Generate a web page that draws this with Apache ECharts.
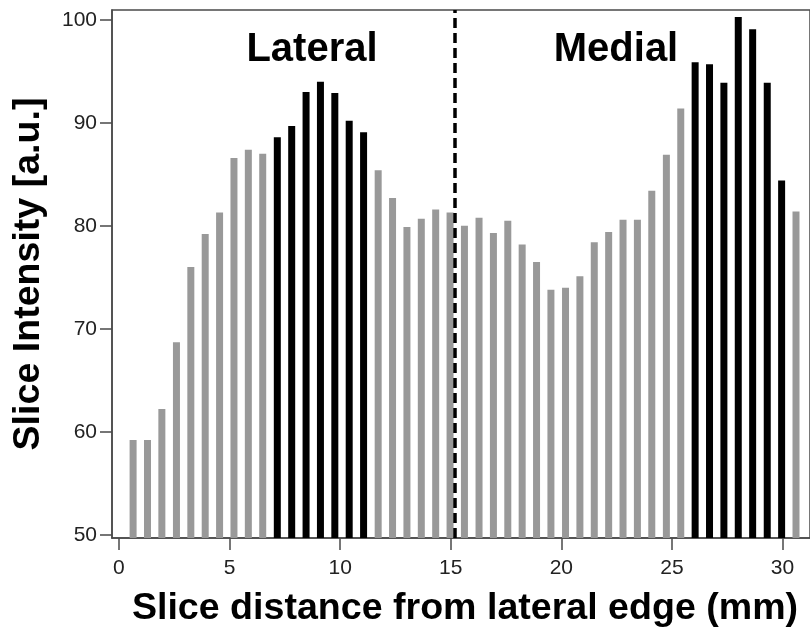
<!DOCTYPE html>
<html>
<head>
<meta charset="utf-8">
<script src="https://cdn.jsdelivr.net/npm/echarts@6/dist/echarts.min.js"></script>
<style>
html,body{margin:0;padding:0;background:#fff;}
#chart{width:810px;height:633px;}
</style>
</head>
<body>
<div id="chart"></div>
<script>
// Slice positions (mm from lateral edge)
var sliceDistance = [0.64, 1.29, 1.94, 2.60, 3.25, 3.90, 4.55, 5.20, 5.85, 6.50,
  7.16, 7.81, 8.46, 9.11, 9.76, 10.41, 11.06, 11.72, 12.37, 13.02,
  13.67, 14.32, 14.97, 15.62, 16.28, 16.93, 17.58, 18.23, 18.88, 19.53,
  20.19, 20.84, 21.49, 22.14, 22.79, 23.44, 24.09, 24.75, 25.40, 26.05,
  26.70, 27.35, 28.00, 28.65, 29.31, 29.96, 30.61];
// Slice intensity [a.u.]
var sliceIntensity = [59.2, 59.2, 62.2, 68.7, 76.0, 79.2, 81.3, 86.6, 87.4, 87.0,
  88.6, 89.7, 93.0, 94.0, 92.9, 90.2, 89.1, 85.4, 82.7, 79.9,
  80.7, 81.6, 81.3, 80.0, 80.8, 79.3, 80.5, 78.2, 76.5, 73.8,
  74.0, 75.1, 78.4, 79.4, 80.6, 80.6, 83.4, 86.9, 91.4, 95.9,
  95.7, 93.9, 100.3, 99.1, 93.9, 84.4, 81.4];
// 1 = peak slice (drawn black), 0 = other slice (grey)
var peakSlice = [0, 0, 0, 0, 0, 0, 0, 0, 0, 0,
  1, 1, 1, 1, 1, 1, 1, 0, 0, 0,
  0, 0, 0, 0, 0, 0, 0, 0, 0, 0,
  0, 0, 0, 0, 0, 0, 0, 0, 0, 1,
  1, 1, 1, 1, 1, 1, 0];
var xTicks = [0, 5, 10, 15, 20, 25, 30];
var yTicks = [50, 60, 70, 80, 90, 100];
var divider = 15.2;
var regionLabels = ['Lateral', 'Medial'];

var barData = sliceDistance.map(function (x, i) {
  return {
    value: [x, sliceIntensity[i]],
    itemStyle: { color: peakSlice[i] ? '#000000' : '#999999' }
  };
});

var chart = echarts.init(document.getElementById('chart'), null, { renderer: 'canvas' });
var axisColor = '#4a4a4a';
var fontFam = '"Liberation Sans", Arial, sans-serif';

chart.setOption({
  animation: false,
  backgroundColor: '#ffffff',
  grid: {
    left: 112, right: -5, top: 10, bottom: 93,
    show: true, borderColor: axisColor, borderWidth: 1.5, backgroundColor: 'transparent'
  },
  xAxis: {
    type: 'value',
    min: -0.314, max: 31.243,
    name: 'Slice distance from lateral edge (mm)',
    nameLocation: 'middle',
    nameGap: 52,
    nameTextStyle: { fontFamily: fontFam, fontWeight: 'bold', fontSize: 37.6, color: '#000', padding: [0, 0, 0, 8] },
    axisLine: { show: true, onZero: false, lineStyle: { color: axisColor, width: 1.5 } },
    axisTick: { show: true, length: 12, customValues: xTicks, lineStyle: { color: axisColor, width: 1.5 } },
    axisLabel: { customValues: xTicks, fontFamily: fontFam, fontSize: 21, color: '#222', margin: 20 },
    splitLine: { show: false }
  },
  yAxis: {
    type: 'value',
    min: 49.68, max: 100.97,
    name: 'Slice Intensity [a.u.]',
    nameLocation: 'middle',
    nameGap: 64,
    nameRotate: 90,
    nameTextStyle: { fontFamily: fontFam, fontWeight: 'bold', fontSize: 37.6, color: '#000' },
    axisLine: { show: true, onZero: false, lineStyle: { color: axisColor, width: 1.5 } },
    axisTick: { show: true, length: 12, customValues: yTicks, lineStyle: { color: axisColor, width: 1.5 } },
    axisLabel: { customValues: yTicks, fontFamily: fontFam, fontSize: 21, color: '#222', margin: 15 },
    splitLine: { show: false }
  },
  series: [{
    type: 'bar',
    data: barData,
    barWidth: 7,
    clip: true,
    markLine: {
      silent: true,
      symbol: ['none', 'none'],
      label: { show: false },
      lineStyle: { color: '#000', type: [10, 5], width: 3.5 },
      data: [{ xAxis: divider }]
    }
  }],
  graphic: [
    { type: 'text', style: { text: regionLabels[0], x: 312, y: 50, textAlign: 'center', textVerticalAlign: 'middle', fontFamily: fontFam, fontWeight: 'bold', fontSize: 40, fill: '#000' } },
    { type: 'text', style: { text: regionLabels[1], x: 616, y: 50, textAlign: 'center', textVerticalAlign: 'middle', fontFamily: fontFam, fontWeight: 'bold', fontSize: 40, fill: '#000' } }
  ]
});
</script>
</body>
</html>
